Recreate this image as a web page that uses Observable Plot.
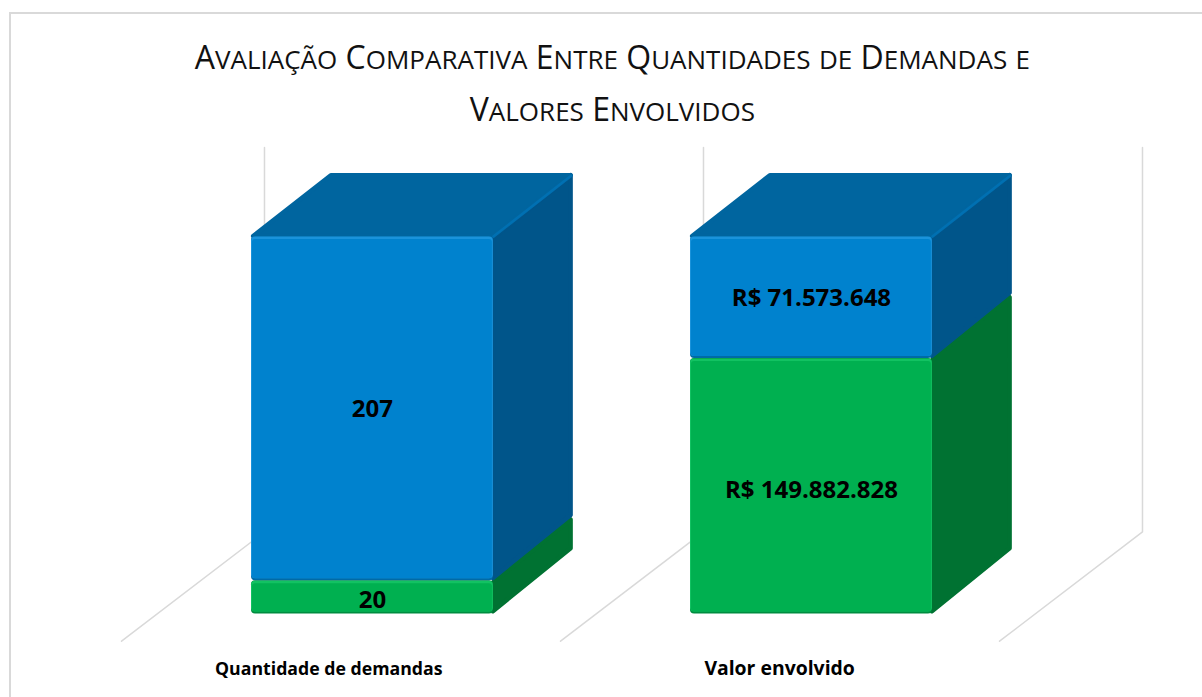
<!DOCTYPE html>
<html><head><meta charset="utf-8">
<script src="https://cdn.jsdelivr.net/npm/d3@7"></script>
<script src="https://cdn.jsdelivr.net/npm/@observablehq/plot@0.6"></script>
<style>
html,body{margin:0;padding:0;background:#fff;overflow:hidden}
#frame{position:absolute;left:9px;top:12px;width:1200px;height:700px;border-left:2px solid #d9d9d9;border-top:2px solid #d9d9d9}
#chart{position:absolute;left:0;top:0}
svg{background:transparent!important}
</style></head><body><div id="frame"></div><div id="chart"></div>
<script>
const categories = ["Quantidade de demandas", "Valor envolvido"];
const categorySizes = [17.7, 19.4];
const greenValues = [20, 149882828];
const blueValues = [207, 71573648];
const greenLabels = ["20", "R$ 149.882.828"];
const blueLabels = ["207", "R$ 71.573.648"];
const titleLines = ["Avaliação Comparativa Entre Quantidades de Demandas e", "Valores Envolvidos"];
const categoryCenters = [0.176, 1.203];

const font = "Open Sans";
const barW = 0.551, depthX = 0.182, depthY = 16.7;
const ix = 0.005, iy = 0.6;
const colors = {
  blue: {front: "#0082ce", side: "#00558a", top: "#00659f", edge: "#0070b2", hi: "#1a93db", lo: "#006aa6"},
  green: {front: "#00b050", side: "#007232", top: "#008a3e", edge: "#007f38", hi: "#12c262", lo: "#008d40"}
};
const segs = categories.flatMap((c, i) => {
  const total = greenValues[i] + blueValues[i];
  const g = greenValues[i] / total * 100;
  return [
    {i, key: "green", y0: 0, y1: g, ...colors.green, label: greenLabels[i], shift: i ? -1 : -0.8},
    {i, key: "blue", y0: g, y1: 100, ...colors.blue, label: blueLabels[i], shift: -0.2}
  ];
});
const sideRows = segs.flatMap((s, n) => [
  {n, fill: s.side, x: s.i + barW, a: s.y0 + iy, b: s.y1 - iy},
  {n, fill: s.side, x: s.i + barW + depthX - ix, a: s.y0 + depthY + iy, b: s.y1 + depthY - iy}
]);
const blueSegs = segs.filter(s => s.key === "blue");
const topRows = blueSegs.flatMap((s, n) => [
  {n, y: s.y1, l: s.i + ix, r: s.i + barW},
  {n, y: s.y1 + depthY - iy, l: s.i + depthX, r: s.i + barW + depthX - ix}
]);
const edgeRows = blueSegs.flatMap((s, n) => [
  {n, x: s.i + barW, y: s.y1},
  {n, x: s.i + barW + depthX - ix, y: s.y1 + depthY - iy}
]);
const gridRows = [0, 1, 2].flatMap(n => [
  {n, x: n - 0.296, y: -7.2},
  {n, x: n + 0.0296, y: 21.75},
  {n, x: n + 0.0296, y: 123.6}
]);
const black = "#000";
const x1 = d => d.i, x2 = d => d.i + barW, yb = d => d.y0, yt = d => d.y1;

// Small-caps title: capitals and synthesised small capitals sized separately; the string stays as written.
function titleRender(index, scales, values, dims, ctx, next) {
  const g = next(index, scales, values, dims, ctx);
  d3.select(g).selectAll("text").each(function () {
    const s = this.textContent;
    const sel = d3.select(this).text(null);
    for (const run of s.match(/[^a-zà-ÿ]+|[a-zà-ÿ]+/g)) {
      const lower = /^[a-zà-ÿ]/.test(run);
      sel.append("tspan").attr("font-size", lower ? 36.6 : 32).text(run);
    }
  });
  return g;
}

const chart = Plot.plot({
  width: 1202, height: 697,
  marginLeft: 0, marginRight: 0, marginTop: 0, marginBottom: 0,
  style: {background: "transparent"},
  x: {domain: [0, 1], range: [251, 690], axis: null},
  y: {domain: [0, 100], range: [613.5, 236], axis: null},
  color: {type: "identity"},
  marks: [
    Plot.line(gridRows, {x: "x", y: "y", z: "n", stroke: "#d9d9d9", strokeWidth: 1.5}),
    Plot.areaY(sideRows, {x: "x", y1: "a", y2: "b", z: "n", fill: "fill", stroke: "fill", strokeWidth: 4.5, strokeLinejoin: "round"}),
    Plot.areaX(topRows, {y: "y", x1: "l", x2: "r", z: "n", fill: colors.blue.top, stroke: colors.blue.top, strokeWidth: 4.5, strokeLinejoin: "round"}),
    Plot.line(edgeRows, {x: "x", y: "y", z: "n", stroke: colors.blue.edge, strokeWidth: 2.5, strokeLinecap: "round"}),
    Plot.rect(segs, {x1, x2, y1: yb, y2: yt, fill: "lo", rx: 4}),
    Plot.rect(segs, {x1, x2, y1: yb, y2: yt, fill: "hi", rx: 4, insetBottom: 2, insetTop: 0.5}),
    Plot.rect(segs, {x1, x2, y1: yb, y2: yt, fill: "front", rx: 3, insetTop: 3, insetBottom: 2, insetLeft: 1, insetRight: 1}),
    Plot.text(segs, {x: d => d.i + barW / 2, y: d => (d.y0 + d.y1) / 2 + d.shift, text: "label", fill: black, fontFamily: font, fontWeight: 700, fontSize: 24}),
    Plot.text(categories, {x: (d, i) => categoryCenters[i], y: -14.6, text: d => d, fill: black, fontFamily: font, fontWeight: 700, fontSize: (d, i) => categorySizes[i]}),
    Plot.text(titleLines, {x: 0.822, y: (d, i) => [147.2, 133.2][i], text: d => d, fill: "#111", fontFamily: font, fontSize: 32, fontVariant: "small-caps", render: titleRender})
  ]
});
document.getElementById("chart").append(chart);
</script></body></html>
